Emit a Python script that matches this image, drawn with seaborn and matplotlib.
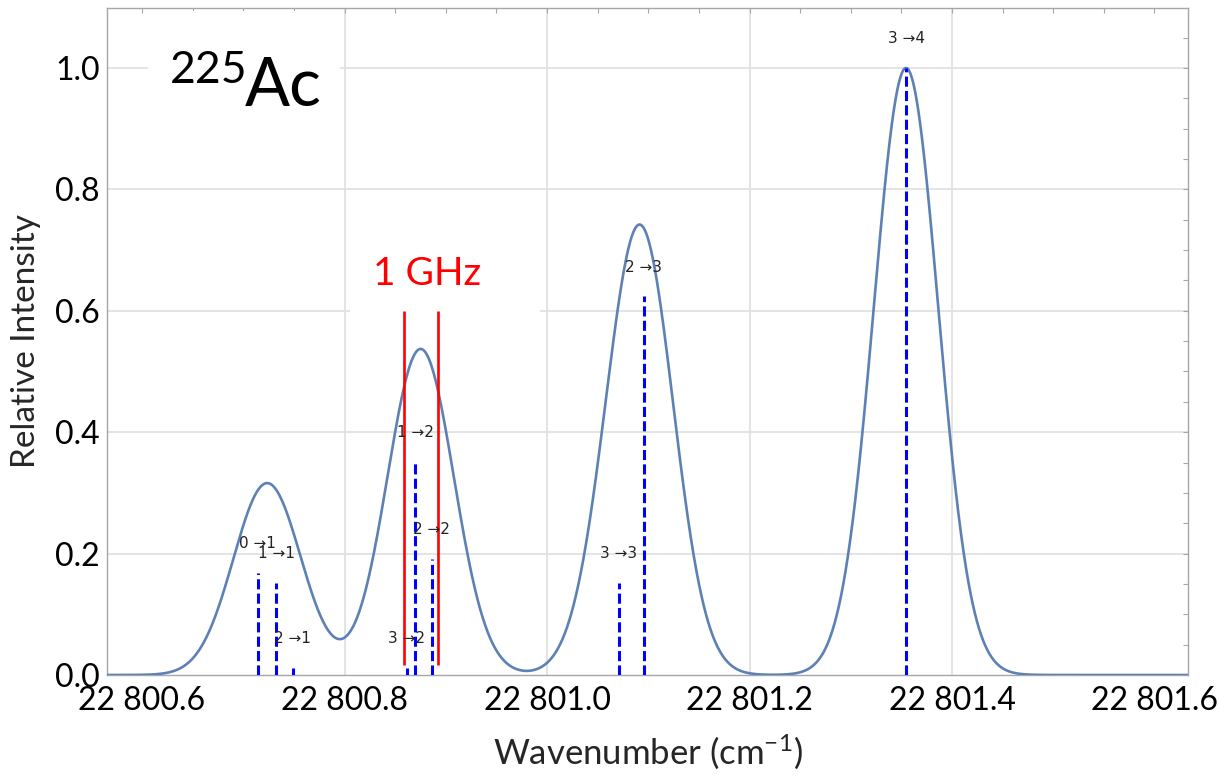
import numpy as np
import pandas as pd
import matplotlib
matplotlib.use("Agg")
import matplotlib.pyplot as plt
from matplotlib.patches import Rectangle
from matplotlib.ticker import FixedLocator, MultipleLocator
import seaborn as sns

# Hyperfine components of the 225Ac line: F -> F' label, position (cm^-1), relative strength
transitions = ["0 \u21921", "1 \u21921", "2 \u21921", "3 \u21922", "1 \u21922",
               "2 \u21922", "3 \u21923", "2 \u21923", "3 \u21924"]
positions = [22800.7143, 22800.7323, 22800.7488, 22800.8614, 22800.8699,
             22800.8861, 22801.0708, 22801.0955, 22801.3546]
strengths = [0.168, 0.152, 0.012, 0.012, 0.351, 0.191, 0.152, 0.624, 1.000]

# Gaussian width (sigma) of every component, cm^-1
line_sigma = 0.0318

# 1 GHz scale marker
ghz_marks = [22800.8585, 22800.8919]
ghz_span = (0.017, 0.600)
ghz_label = "1 GHz"

x_ticks = [22800.6, 22800.8, 22801.0, 22801.2, 22801.4, 22801.6]
x_tick_labels = ["22 800.6", "22 800.8", "22 801.0", "22 801.2", "22 801.4", "22 801.6"]
x_grid = [22800.8, 22801.0, 22801.2, 22801.4]
y_ticks = [0.0, 0.2, 0.4, 0.6, 0.8, 1.0]
y_tick_labels = ["0.0", "0.2", "0.4", "0.6", "0.8", "1.0"]

x_range = (22800.5654, 22801.6331)
y_range = (0.0, 1.0988)

sns.set_style("white")
plt.rcParams["font.family"] = ["Lato", "DejaVu Sans"]
plt.rcParams["mathtext.fontset"] = "custom"
plt.rcParams["mathtext.rm"] = "Lato"
plt.rcParams["mathtext.it"] = "Lato"
plt.rcParams["mathtext.default"] = "regular"

fig = plt.figure(figsize=(12.19, 7.76), dpi=100)
ax = fig.add_axes([107 / 1219, 101 / 776, 1081 / 1219, 667 / 776])

# Simulated spectrum: sum of Gaussian-broadened components
wn = np.linspace(x_range[0], x_range[1], 3000)
profile = np.zeros_like(wn)
for p, h in zip(positions, strengths):
    profile += h * np.exp(-(wn - p) ** 2 / (2 * line_sigma ** 2))
spectrum = pd.DataFrame({"wavenumber": wn, "intensity": profile})

grid_kw = dict(color="#e2e2e2", lw=1.3, zorder=0)
for yv in y_ticks[1:]:
    ax.axhline(yv, **grid_kw)
for xv in x_grid:
    ax.axvline(xv, **grid_kw)

sns.lineplot(data=spectrum, x="wavenumber", y="intensity", ax=ax,
             color="#5E81B5", lw=1.9, zorder=3)

# Stick spectrum
ax.vlines(positions, 0, strengths, colors="#0000FF", lw=2.2,
          linestyles=[(0, (3.3, 1.4))], zorder=4)
for p, h, t in zip(positions, strengths, transitions):
    ax.text(p, h + 0.048, t, ha="center", va="center", fontsize=11,
            family=["DejaVu Sans"], color="#222222", zorder=7)

# 1 GHz marker with a white backing behind its label
ax.add_patch(Rectangle((22800.8054, 0.596), 0.1877, 0.13, facecolor="white",
                       edgecolor="none", zorder=1))
ax.vlines(ghz_marks, ghz_span[0], ghz_span[1], colors="#FF0000", lw=1.9, zorder=5)
ax.text(sum(ghz_marks) / 2 + 0.0063, 0.6425, ghz_label, ha="center", va="baseline",
        fontsize=28, color="#FF0000", zorder=7)

# Isotope label
ax.add_patch(Rectangle((0.038, 0.81), 0.178, 0.185, transform=ax.transAxes,
                       facecolor="white", edgecolor="none", zorder=1))
ax.text(0.0583, 0.8876, "225", transform=ax.transAxes, ha="left", va="baseline",
        fontsize=32, color="black", zorder=7)
ax.text(0.1277, 0.8531, "Ac", transform=ax.transAxes, ha="left", va="baseline",
        fontsize=48, color="black", zorder=7)

ax.set_xlim(*x_range)
ax.set_ylim(*y_range)
ax.xaxis.set_major_locator(FixedLocator(x_ticks))
ax.set_xticklabels(x_tick_labels)
ax.xaxis.set_minor_locator(MultipleLocator(0.05))
ax.yaxis.set_major_locator(FixedLocator(y_ticks))
ax.set_yticklabels(y_tick_labels)
ax.yaxis.set_minor_locator(MultipleLocator(0.05))

frame_col = "#a6a6a6"
for s in ax.spines.values():
    s.set_color(frame_col)
    s.set_linewidth(1.0)
ax.tick_params(which="both", direction="in", top=True, right=True,
               color=frame_col, length=3.6, width=0.8)
ax.tick_params(axis="both", which="major", labelsize=23, labelcolor="black")
ax.tick_params(axis="y", which="major", pad=5)
ax.tick_params(axis="x", which="major", pad=8)

ax.set_xlabel("Wavenumber (cm$^{-1}$)", fontsize=25, labelpad=12)
ax.set_ylabel("Relative Intensity", fontsize=24, labelpad=10)

fig.savefig("out.png", dpi=100)
